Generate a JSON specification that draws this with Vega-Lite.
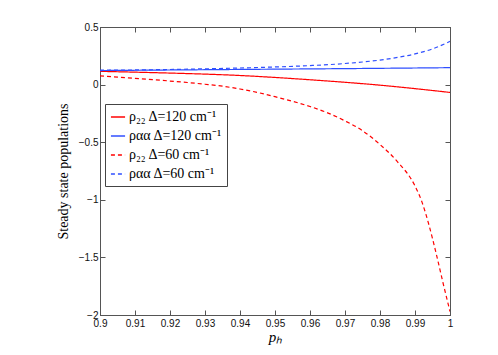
{
  "$schema": "https://vega.github.io/schema/vega-lite/v6.json",
  "width": 350,
  "height": 288,
  "autosize": "none",
  "padding": {"left": 100, "top": 27, "right": 48, "bottom": 40},
  "background": "white",
  "config": {
    "view": {"stroke": "#555", "strokeWidth": 1},
    "axis": {
      "grid": false,
      "domainColor": "#555",
      "tickColor": "#555",
      "tickSize": -5,
      "labelFont": "Liberation Sans",
      "labelFontSize": 10,
      "labelColor": "#111",
      "titleFont": "Liberation Serif",
      "titleFontWeight": "normal",
      "titleColor": "#000"
    },
    "legend": {
      "orient": "none",
      "legendX": 5,
      "legendY": 77,
      "strokeColor": "#444",
      "fillColor": "white",
      "padding": 5,
      "labelFont": "Liberation Serif",
      "labelFontSize": 14,
      "labelColor": "#000",
      "symbolType": "stroke",
      "symbolSize": 200,
      "symbolStrokeWidth": 1.3,
      "rowPadding": 4,
      "labelOffset": 3
    }
  },
  "data": {
    "values": [
      {"p": 0.90, "v": 0.115, "s": "ρ₂₂ Δ=120 cm⁻¹"},
      {"p": 0.91, "v": 0.108, "s": "ρ₂₂ Δ=120 cm⁻¹"},
      {"p": 0.92, "v": 0.100, "s": "ρ₂₂ Δ=120 cm⁻¹"},
      {"p": 0.93, "v": 0.091, "s": "ρ₂₂ Δ=120 cm⁻¹"},
      {"p": 0.94, "v": 0.079, "s": "ρ₂₂ Δ=120 cm⁻¹"},
      {"p": 0.95, "v": 0.062, "s": "ρ₂₂ Δ=120 cm⁻¹"},
      {"p": 0.96, "v": 0.042, "s": "ρ₂₂ Δ=120 cm⁻¹"},
      {"p": 0.97, "v": 0.020, "s": "ρ₂₂ Δ=120 cm⁻¹"},
      {"p": 0.98, "v": -0.005, "s": "ρ₂₂ Δ=120 cm⁻¹"},
      {"p": 0.99, "v": -0.035, "s": "ρ₂₂ Δ=120 cm⁻¹"},
      {"p": 1.00, "v": -0.068, "s": "ρ₂₂ Δ=120 cm⁻¹"},
      {"p": 0.900, "v": 0.122, "s": "ραα Δ=120 cm⁻¹"},
      {"p": 0.925, "v": 0.128, "s": "ραα Δ=120 cm⁻¹"},
      {"p": 0.950, "v": 0.134, "s": "ραα Δ=120 cm⁻¹"},
      {"p": 0.975, "v": 0.140, "s": "ραα Δ=120 cm⁻¹"},
      {"p": 1.000, "v": 0.147, "s": "ραα Δ=120 cm⁻¹"},
      {"p": 0.900, "v": 0.075, "s": "ρ₂₂ Δ=60 cm⁻¹"},
      {"p": 0.905, "v": 0.065, "s": "ρ₂₂ Δ=60 cm⁻¹"},
      {"p": 0.910, "v": 0.054, "s": "ρ₂₂ Δ=60 cm⁻¹"},
      {"p": 0.915, "v": 0.043, "s": "ρ₂₂ Δ=60 cm⁻¹"},
      {"p": 0.920, "v": 0.031, "s": "ρ₂₂ Δ=60 cm⁻¹"},
      {"p": 0.925, "v": 0.018, "s": "ρ₂₂ Δ=60 cm⁻¹"},
      {"p": 0.930, "v": 0.003, "s": "ρ₂₂ Δ=60 cm⁻¹"},
      {"p": 0.935, "v": -0.014, "s": "ρ₂₂ Δ=60 cm⁻¹"},
      {"p": 0.940, "v": -0.038, "s": "ρ₂₂ Δ=60 cm⁻¹"},
      {"p": 0.945, "v": -0.068, "s": "ρ₂₂ Δ=60 cm⁻¹"},
      {"p": 0.950, "v": -0.105, "s": "ρ₂₂ Δ=60 cm⁻¹"},
      {"p": 0.955, "v": -0.145, "s": "ρ₂₂ Δ=60 cm⁻¹"},
      {"p": 0.960, "v": -0.190, "s": "ρ₂₂ Δ=60 cm⁻¹"},
      {"p": 0.965, "v": -0.245, "s": "ρ₂₂ Δ=60 cm⁻¹"},
      {"p": 0.970, "v": -0.315, "s": "ρ₂₂ Δ=60 cm⁻¹"},
      {"p": 0.975, "v": -0.400, "s": "ρ₂₂ Δ=60 cm⁻¹"},
      {"p": 0.980, "v": -0.520, "s": "ρ₂₂ Δ=60 cm⁻¹"},
      {"p": 0.985, "v": -0.670, "s": "ρ₂₂ Δ=60 cm⁻¹"},
      {"p": 0.990, "v": -0.880, "s": "ρ₂₂ Δ=60 cm⁻¹"},
      {"p": 0.992, "v": -1.020, "s": "ρ₂₂ Δ=60 cm⁻¹"},
      {"p": 0.994, "v": -1.220, "s": "ρ₂₂ Δ=60 cm⁻¹"},
      {"p": 0.996, "v": -1.460, "s": "ρ₂₂ Δ=60 cm⁻¹"},
      {"p": 0.998, "v": -1.720, "s": "ρ₂₂ Δ=60 cm⁻¹"},
      {"p": 1.000, "v": -1.970, "s": "ρ₂₂ Δ=60 cm⁻¹"},
      {"p": 0.900, "v": 0.125, "s": "ραα Δ=60 cm⁻¹"},
      {"p": 0.910, "v": 0.127, "s": "ραα Δ=60 cm⁻¹"},
      {"p": 0.920, "v": 0.131, "s": "ραα Δ=60 cm⁻¹"},
      {"p": 0.930, "v": 0.137, "s": "ραα Δ=60 cm⁻¹"},
      {"p": 0.940, "v": 0.144, "s": "ραα Δ=60 cm⁻¹"},
      {"p": 0.950, "v": 0.153, "s": "ραα Δ=60 cm⁻¹"},
      {"p": 0.960, "v": 0.165, "s": "ραα Δ=60 cm⁻¹"},
      {"p": 0.970, "v": 0.183, "s": "ραα Δ=60 cm⁻¹"},
      {"p": 0.975, "v": 0.196, "s": "ραα Δ=60 cm⁻¹"},
      {"p": 0.980, "v": 0.213, "s": "ραα Δ=60 cm⁻¹"},
      {"p": 0.985, "v": 0.236, "s": "ραα Δ=60 cm⁻¹"},
      {"p": 0.990, "v": 0.266, "s": "ραα Δ=60 cm⁻¹"},
      {"p": 0.995, "v": 0.310, "s": "ραα Δ=60 cm⁻¹"},
      {"p": 1.000, "v": 0.375, "s": "ραα Δ=60 cm⁻¹"}
    ]
  },
  "resolve": {"axis": {"x": "independent", "y": "independent"}},
  "layer": [
    {
      "mark": {"type": "line", "strokeWidth": 1.2, "interpolate": "monotone", "clip": true},
      "encoding": {
        "x": {
          "field": "p", "type": "quantitative",
          "scale": {"domain": [0.9, 1], "nice": false, "zero": false},
          "axis": {
            "title": "pₕ",
            "titleFontStyle": "italic",
            "titleFontSize": 15,
            "titlePadding": 1,
            "values": [0.9, 0.91, 0.92, 0.93, 0.94, 0.95, 0.96, 0.97, 0.98, 0.99, 1.0],
            "format": "~g",
            "labelPadding": 8,
            "labelFlush": false
          }
        },
        "y": {
          "field": "v", "type": "quantitative",
          "scale": {"domain": [-2, 0.5], "nice": false, "zero": false},
          "axis": {
            "title": "Steady state populations",
            "titleFontSize": 14,
            "titlePadding": 8,
            "values": [-2, -1.5, -1, -0.5, 0, 0.5],
            "format": "~g",
            "labelPadding": 7,
            "labelFlush": false
          }
        },
        "color": {
          "field": "s", "type": "nominal",
          "scale": {
            "domain": ["ρ₂₂ Δ=120 cm⁻¹", "ραα Δ=120 cm⁻¹", "ρ₂₂ Δ=60 cm⁻¹", "ραα Δ=60 cm⁻¹"],
            "range": ["#ff0000", "#2f4fff", "#ff0000", "#2f4fff"]
          },
          "legend": {"title": null}
        },
        "strokeDash": {
          "field": "s", "type": "nominal",
          "scale": {
            "domain": ["ρ₂₂ Δ=120 cm⁻¹", "ραα Δ=120 cm⁻¹", "ρ₂₂ Δ=60 cm⁻¹", "ραα Δ=60 cm⁻¹"],
            "range": [[1, 0], [1, 0], [4, 3], [4, 3]]
          },
          "legend": {"title": null}
        }
      }
    },
    {
      "mark": {"type": "point", "opacity": 0},
      "encoding": {
        "x": {
          "field": "p", "type": "quantitative",
          "axis": {
            "orient": "top", "labels": false, "title": null,
            "values": [0.9, 0.91, 0.92, 0.93, 0.94, 0.95, 0.96, 0.97, 0.98, 0.99, 1.0]
          }
        },
        "y": {
          "field": "v", "type": "quantitative",
          "axis": {
            "orient": "right", "labels": false, "title": null,
            "values": [-2, -1.5, -1, -0.5, 0, 0.5]
          }
        }
      }
    }
  ]
}
